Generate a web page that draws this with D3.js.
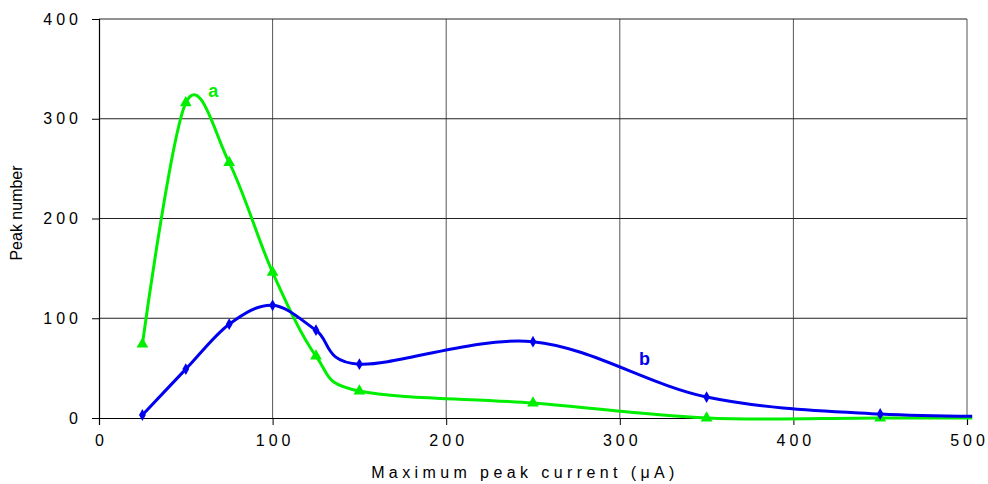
<!DOCTYPE html>
<html>
<head>
<meta charset="utf-8">
<script src="https://cdn.jsdelivr.net/npm/d3@7"></script>
<style>
  body { margin: 0; background: #fff; }
  text { font-family: Arial, "Liberation Sans", sans-serif; }
</style>
</head>
<body>
<svg id="chart"></svg>
<script>
// data
const current = [25, 50, 75, 100, 125, 150, 250, 350, 450, 550]
const peaksA = [74, 316, 256, 146, 62, 27, 15, 0, 0, 0]
const peaksB = [3, 49, 94, 113, 88, 54, 76.5, 21, 4, 2]
const markedUpTo = 9   // the last point lies past the axis, no marker
const xTicks = [0, 100, 200, 300, 400, 500]
const yTicks = [0, 100, 200, 300, 400]

const width = 988, height = 484
const margin = {top: 19, right: 21, bottom: 66, left: 99}
const w = width - margin.left - margin.right
const h = height - margin.top - margin.bottom

const svg = d3.select('#chart')
  .attr('width', width)
  .attr('height', height)

const g = svg.append('g')
  .attr('transform', 'translate(' + margin.left + ',' + margin.top + ')')

const x = d3.scaleLinear().domain([0, 500]).range([0, w])
const y = d3.scaleLinear().domain([0, 400]).range([h, 0])

// grid
g.append('g').selectAll('line')
  .data(xTicks.slice(1))
  .join('line')
  .attr('x1', d => x(d)).attr('x2', d => x(d))
  .attr('y1', 0).attr('y2', h)
  .attr('stroke', '#555').attr('stroke-width', 1)

g.append('g').selectAll('line')
  .data(yTicks.slice(1))
  .join('line')
  .attr('x1', 0).attr('x2', w)
  .attr('y1', d => y(d)).attr('y2', d => y(d))
  .attr('stroke', '#222').attr('stroke-width', 1)

// axes
const xAxis = g.append('g')
  .attr('transform', 'translate(0,' + h + ')')
  .call(d3.axisBottom(x).tickValues(xTicks).tickSize(7).tickPadding(10))
const yAxis = g.append('g')
  .call(d3.axisLeft(y).tickValues(yTicks).tickSize(7).tickPadding(14))

for (const ax of [xAxis, yAxis]) {
  ax.select('.domain').attr('stroke', '#000').attr('stroke-width', 1.2)
  ax.selectAll('.tick line').attr('stroke', '#000')
  ax.selectAll('.tick text')
    .attr('font-size', 16)
    .attr('letter-spacing', 4)
    .attr('fill', '#000')
}
xAxis.selectAll('.tick text').attr('dx', 2)
yAxis.selectAll('.tick text').attr('dx', 4)

// clip lines a little past the 500 gridline
svg.append('defs').append('clipPath').attr('id', 'clip')
  .append('rect')
  .attr('x', -2).attr('y', -10)
  .attr('width', x(503) + 2).attr('height', h + 20)

const line = d3.line()
  .x(d => x(d[0]))
  .y(d => y(d[1]))
  .curve(d3.curveCardinal.tension(0))

const series = [
  {vals: peaksA, color: '#00ee00', shape: d3.symbolTriangle, size: 60},
  {vals: peaksB, color: '#0000ee', shape: d3.symbolDiamond, size: 40}
]

series.forEach(s => {
  const pts = current.map((c, i) => [c, s.vals[i]])
  g.append('path')
    .datum(pts)
    .attr('clip-path', 'url(#clip)')
    .attr('fill', 'none')
    .attr('stroke', s.color)
    .attr('stroke-width', 3)
    .attr('d', line)

  g.append('g').selectAll('path')
    .data(pts.slice(0, markedUpTo))
    .join('path')
    .attr('transform', d => 'translate(' + x(d[0]) + ',' + y(d[1]) + ')')
    .attr('d', d3.symbol().type(s.shape).size(s.size))
    .attr('fill', s.color)
})

// series labels
g.append('text')
  .attr('x', x(63)).attr('y', y(322))
  .attr('font-size', 18).attr('font-weight', 'bold')
  .attr('fill', '#00ee00')
  .text('a')
g.append('text')
  .attr('x', x(311)).attr('y', y(53))
  .attr('font-size', 18).attr('font-weight', 'bold')
  .attr('fill', '#0000ee')
  .text('b')

// axis titles
svg.append('text')
  .attr('x', 525)
  .attr('y', 478)
  .attr('text-anchor', 'middle')
  .attr('font-size', 16)
  .attr('letter-spacing', 4.4)
  .text('Maximum peak current (μA)')

svg.append('text')
  .attr('transform', 'translate(22,' + 213 + ') rotate(-90)')
  .attr('text-anchor', 'middle')
  .attr('font-size', 16)
  .text('Peak number')
</script>
</body>
</html>
